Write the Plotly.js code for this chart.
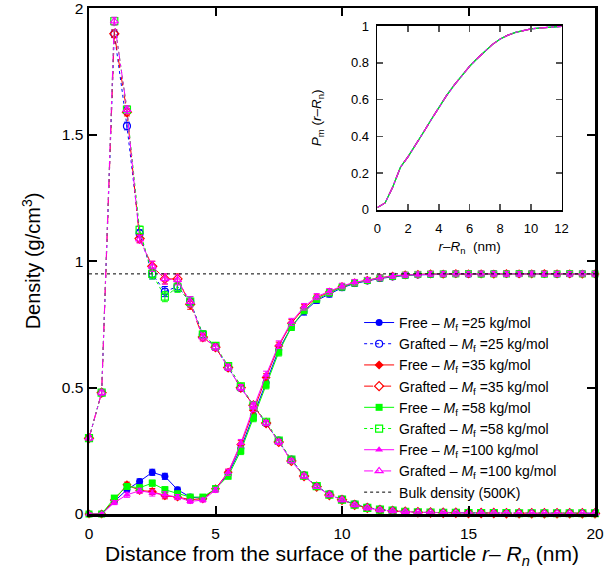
<!DOCTYPE html>
<html>
<head>
<meta charset="utf-8">
<script src="https://cdn.plot.ly/plotly-3.0.1.min.js"></script>
<style>
html,body{margin:0;padding:0;background:#fff;}
#chart{width:607px;height:571px;}
</style>
</head>
<body>
<div id="chart"></div>
<script>
// ---------- data ----------
const distance = [0,0.5,1,1.5,2,2.5,3,3.5,4,4.5,5,5.5,6,6.5,7,7.5,8,8.5,9,9.5,10,10.5,11,11.5,12,12.5,13,13.5,14,14.5,15,15.5,16,16.5,17,17.5,18,18.5,19,19.5,20];

const freeM25   = [0,0,0.050,0.096,0.129,0.165,0.149,0.096,0.067,0.062,0.100,0.158,0.260,0.390,0.520,0.650,0.740,0.800,0.845,0.870,0.895,0.912,0.922,0.932,0.938,0.944,0.946,0.948,0.949,0.950,0.949,0.950,0.951,0.950,0.950,0.951,0.950,0.949,0.950,0.951,0.950];
const freeM35   = [0,0,0.055,0.116,0.093,0.089,0.072,0.067,0.057,0.060,0.100,0.165,0.275,0.410,0.540,0.665,0.755,0.815,0.855,0.878,0.900,0.915,0.925,0.935,0.941,0.946,0.948,0.950,0.949,0.951,0.950,0.950,0.949,0.951,0.950,0.950,0.951,0.950,0.950,0.949,0.950];
const freeM58   = [0,0,0.063,0.109,0.104,0.122,0.096,0.080,0.067,0.067,0.100,0.150,0.250,0.380,0.510,0.640,0.740,0.805,0.850,0.875,0.898,0.914,0.924,0.934,0.940,0.945,0.948,0.949,0.950,0.950,0.951,0.949,0.950,0.950,0.951,0.950,0.949,0.950,0.951,0.950,0.950];
const freeM100  = [0,0,0.045,0.076,0.092,0.083,0.076,0.067,0.050,0.055,0.095,0.165,0.280,0.420,0.550,0.670,0.760,0.820,0.860,0.880,0.902,0.917,0.926,0.935,0.942,0.946,0.948,0.950,0.950,0.951,0.950,0.951,0.950,0.950,0.950,0.951,0.950,0.950,0.950,0.951,0.950];

const graftedM25  = [0.30,0.48,1.90,1.535,1.110,0.950,0.880,0.900,0.840,0.710,0.660,0.580,0.500,0.430,0.360,0.290,0.215,0.153,0.110,0.078,0.058,0.038,0.025,0.017,0.013,0.009,0.007,0.006,0.005,0.005,0.004,0.004,0.004,0.004,0.003,0.003,0.003,0.003,0.003,0.003,0.003];
const graftedM35  = [0.30,0.48,1.90,1.590,1.090,0.980,0.930,0.930,0.830,0.700,0.660,0.580,0.500,0.430,0.360,0.285,0.210,0.150,0.108,0.075,0.056,0.036,0.024,0.016,0.012,0.009,0.007,0.006,0.005,0.005,0.004,0.004,0.004,0.003,0.003,0.003,0.003,0.003,0.003,0.003,0.003];
const graftedM58  = [0.30,0.48,1.95,1.600,1.124,0.950,0.860,0.897,0.840,0.710,0.665,0.585,0.505,0.430,0.365,0.290,0.215,0.152,0.110,0.077,0.057,0.037,0.024,0.017,0.013,0.009,0.007,0.006,0.005,0.005,0.004,0.004,0.004,0.004,0.003,0.003,0.003,0.003,0.003,0.003,0.003];
const graftedM100 = [0.30,0.48,1.95,1.600,1.087,0.980,0.930,0.926,0.840,0.700,0.660,0.580,0.500,0.430,0.360,0.285,0.210,0.150,0.108,0.076,0.056,0.036,0.024,0.016,0.012,0.009,0.007,0.006,0.005,0.005,0.004,0.004,0.004,0.003,0.003,0.003,0.003,0.003,0.003,0.003,0.003];

const freeError    = [0.004,0.004,0.008,0.010,0.010,0.012,0.012,0.010,0.008,0.008,0.010,0.012,0.015,0.015,0.015,0.015,0.014,0.013,0.012,0.012,0.011,0.011,0.010,0.010,0.010,0.010,0.010,0.010,0.010,0.010,0.010,0.010,0.010,0.010,0.010,0.010,0.010,0.010,0.010,0.010,0.010];
const graftedError = [0.010,0.010,0.015,0.015,0.015,0.020,0.020,0.020,0.020,0.015,0.012,0.012,0.012,0.012,0.010,0.010,0.008,0.008,0.006,0.005,0.004,0.004,0.003,0.003,0.003,0.003,0.003,0.003,0.003,0.003,0.003,0.003,0.003,0.003,0.003,0.003,0.003,0.003,0.003,0.003,0.003];

const bulkDensity = 0.95;
const bulkRange = [0, 20];

const molarMasses = ['25', '35', '58', '100'];

const xTicks = [0, 5, 10, 15, 20];
const yTicks = [0, 0.5, 1, 1.5, 2];
const yTickText = ['0', '0.5', '1', '1.5', '2'];
const insetXTicks = [0, 2, 4, 6, 8, 10, 12];
const insetYTicks = [0, 0.2, 0.4, 0.6, 0.8, 1];
const insetYTickText = ['0', '0.2', '0.4', '0.6', '0.8', '1'];

// inset: cumulative monomer distribution
const pmDistance = [0,0.5,1,1.5,2,2.5,3,3.5,4,4.5,5,5.5,6,6.5,7,7.5,8,8.5,9,9.5,10,10.5,11,11.5,12];
const pmValues   = [0.013,0.038,0.125,0.232,0.290,0.354,0.422,0.490,0.557,0.621,0.678,0.729,0.780,0.823,0.864,0.900,0.929,0.950,0.965,0.976,0.984,0.988,0.992,0.995,0.998];

// ---------- styles ----------
const colors = ['#0000ff', '#ff0000', '#00ff00', '#ff00ff'];
const freeSymbols = ['circle', 'diamond', 'square', 'triangle-up'];
const graftedSymbols = ['circle-open', 'diamond-open', 'square-open', 'triangle-up-open'];
const graftedDash = ['dot', 'dash', '3px,3px', 'dashdot'];
const freeSeries = [freeM25, freeM35, freeM58, freeM100];
const graftedSeries = [graftedM25, graftedM35, graftedM58, graftedM100];

const traces = [];
for (let i = 0; i < 4; i++) {
  traces.push({
    x: distance, y: freeSeries[i], type: 'scatter', mode: 'lines+markers',
    name: 'Free – <i>M</i><sub>f</sub> =' + molarMasses[i] + ' kg/mol',
    line: {color: colors[i], width: 1},
    marker: {symbol: freeSymbols[i], size: 7, color: colors[i]},
    error_y: {type: 'data', array: freeError, visible: true, color: colors[i], thickness: 1, width: 3},
    cliponaxis: false, xaxis: 'x', yaxis: 'y'
  });
  traces.push({
    x: distance, y: graftedSeries[i], type: 'scatter', mode: 'lines+markers',
    name: 'Grafted – <i>M</i><sub>f</sub> =' + molarMasses[i] + ' kg/mol',
    line: {color: colors[i], width: 1, dash: graftedDash[i]},
    marker: {symbol: graftedSymbols[i], size: 7, color: colors[i], line: {width: 1.2, color: colors[i]}},
    error_y: {type: 'data', array: graftedError, visible: true, color: colors[i], thickness: 1, width: 3},
    cliponaxis: false, xaxis: 'x', yaxis: 'y'
  });
}
traces.push({
  x: bulkRange, y: [bulkDensity, bulkDensity], type: 'scatter', mode: 'lines',
  name: 'Bulk density (500K)',
  line: {color: '#000', width: 1, dash: 'dot'},
  xaxis: 'x', yaxis: 'y'
});
// inset traces (the curves of all systems overlap)
for (let i = 0; i < 4; i++) {
  traces.push({
    x: pmDistance, y: pmValues, type: 'scatter', mode: 'lines',
    line: {color: colors[i], width: 1.2, dash: i % 2 ? graftedDash[i] : 'solid'},
    showlegend: false, xaxis: 'x2', yaxis: 'y2', hoverinfo: 'skip'
  });
}

const font = {family: 'Liberation Sans, Arial, sans-serif', color: '#000'};
const f = (s) => Object.assign({size: s}, font);

const layout = {
  width: 607, height: 571,
  margin: {l: 89, r: 12, t: 8, b: 57},
  paper_bgcolor: '#fff', plot_bgcolor: '#fff',
  font: f(15),
  showlegend: true,
  legend: {
    x: 0.935, y: 0.012, xanchor: 'right', yanchor: 'bottom',
    bgcolor: 'rgba(255,255,255,0)', borderwidth: 0,
    font: f(14),
    tracegroupgap: 0
  },
  xaxis: {
    domain: [0, 1], range: [0, 20], tickvals: xTicks,
    ticks: 'inside', ticklen: 8, tickwidth: 2, tickcolor: '#000',
    ticklabelstandoff: 4, ticklabeloverflow: 'allow',
    showline: true, linecolor: '#000', linewidth: 2.5, mirror: 'ticks',
    showgrid: false, zeroline: false,
    tickfont: f(15.5),
    title: {text: 'Distance from the surface of the particle <i>r</i>– <i>R<sub>n</sub></i> (nm)', font: f(21), standoff: 4}
  },
  yaxis: {
    domain: [0, 1], range: [0, 2.002], tickvals: yTicks, ticktext: yTickText,
    ticks: 'inside', ticklen: 8, tickwidth: 2, tickcolor: '#000',
    ticklabeloverflow: 'allow',
    showline: true, linecolor: '#000', linewidth: 2.5, mirror: 'ticks',
    showgrid: false, zeroline: false,
    tickfont: f(15.5),
    title: {text: 'Density (g/cm<sup>3</sup>)', font: f(20), standoff: 16}
  },
  xaxis2: {
    domain: [0.570, 0.934], range: [0, 12], tickvals: insetXTicks, anchor: 'y2',
    ticks: 'inside', ticklen: 6, tickwidth: 1.5, tickcolor: '#555',
    ticklabelstandoff: 6,
    showline: true, linecolor: '#000', linewidth: 1.8, mirror: 'ticks',
    showgrid: false, zeroline: false,
    tickfont: f(13),
    title: {text: '<i>r</i>–<i>R</i><sub>n</sub>  (nm)', font: f(13.5), standoff: 6}
  },
  yaxis2: {
    domain: [0.601, 0.9645], range: [0, 1], tickvals: insetYTicks, ticktext: insetYTickText, anchor: 'x2',
    ticks: 'inside', ticklen: 6, tickwidth: 1.5, tickcolor: '#555',
    ticklabelstandoff: 4,
    showline: true, linecolor: '#000', linewidth: 1.8, mirror: 'ticks',
    showgrid: false, zeroline: false,
    tickfont: f(13),
    title: {text: '<i>P</i><sub>m</sub> (<i>r</i>–<i>R</i><sub>n</sub>)', font: f(13.5), standoff: 26}
  }
};

Plotly.newPlot('chart', traces, layout, {staticPlot: true, displayModeBar: false});
</script>
</body>
</html>
